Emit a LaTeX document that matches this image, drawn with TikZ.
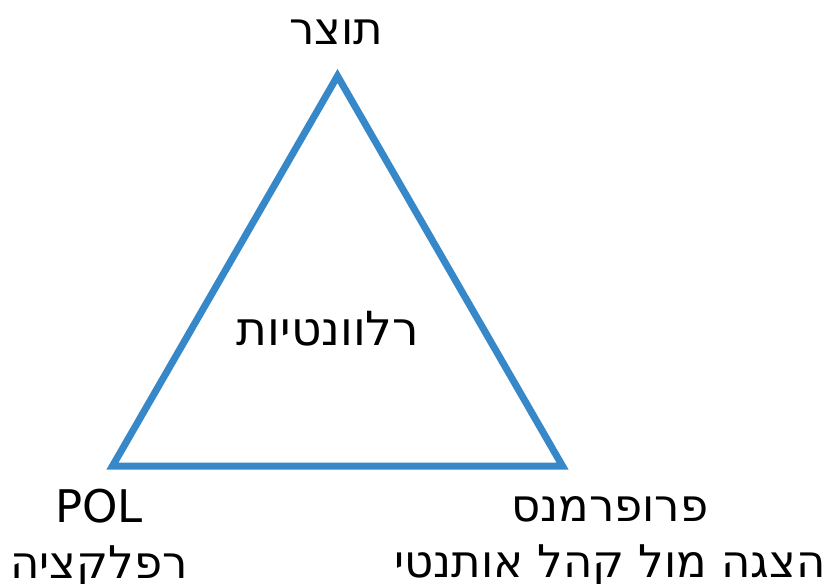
\documentclass[tikz,border=0pt]{standalone}
\usepackage{fontspec}
\setmainfont{DejaVu Sans}
\newfontfamily\hebfont[Script=Hebrew]{DejaVu Sans}
\TeXXeTstate=1
\definecolor{triblue}{RGB}{54,136,201}
\tikzset{
  lbl/.style={font=\hebfont\fontsize{45}{56}\selectfont, inner sep=0pt, align=center, anchor=base},
  tri/.style={draw=triblue, line width=7pt, line join=miter}
}
\begin{document}
\begin{tikzpicture}[x=1pt,y=-1pt]
\useasboundingbox (0,0) rectangle (831,584);
\coordinate (T) at (337.5,76);
\coordinate (L) at (112.5,466);
\coordinate (R) at (562.5,466);
\draw[tri] (T) -- (L) -- (R) -- cycle;
\node[lbl] (top) at (336,44) {\beginR תוצר\endR};
\node[lbl, font=\hebfont\fontsize{47}{56}\selectfont] (mid) at (328,345) {\beginR רלוונטיות\endR};
\node[lbl] (left) at (99,578) {POL\\\beginR רפלקציה\endR};
\node[lbl] (right) at (610,577) {\beginR פרופרמנס\endR\\\beginR הצגה מול קהל אותנטי\endR};
\end{tikzpicture}
\end{document}
